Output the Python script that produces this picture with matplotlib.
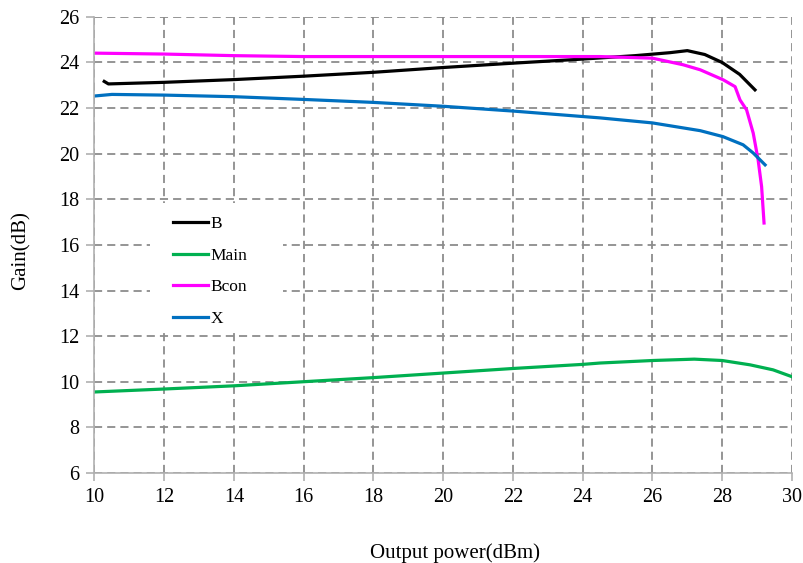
import matplotlib
matplotlib.use("Agg")
import matplotlib.pyplot as plt
from matplotlib.patches import Rectangle

plt.rcParams['font.family'] = ['Liberation Serif', 'DejaVu Serif']

# Gain curves versus output power
b_x = [10.28, 10.4, 12, 14, 16, 18, 20, 22, 24, 25.5, 26.5, 27.0, 27.5, 28.0, 28.5, 28.94]
b_y = [23.17, 23.06, 23.13, 23.25, 23.4, 23.57, 23.78, 23.97, 24.15, 24.3, 24.43, 24.52, 24.35, 24.0, 23.48, 22.8]

main_x = [10, 12, 14, 16, 18, 20, 22, 24, 24.5, 26, 27.2, 28, 28.8, 29.46, 30]
main_y = [9.55, 9.68, 9.82, 10.0, 10.18, 10.38, 10.58, 10.76, 10.82, 10.93, 10.99, 10.93, 10.74, 10.52, 10.22]

bcon_x = [10, 12, 14, 16, 18, 20, 22, 24.5, 26.0, 26.88, 27.37, 28.03, 28.37, 28.51, 28.7, 28.89, 29.03, 29.13, 29.2]
bcon_y = [24.41, 24.37, 24.3, 24.26, 24.26, 24.26, 24.26, 24.26, 24.19, 23.9, 23.68, 23.24, 22.94, 22.36, 21.92, 20.9, 19.73, 18.56, 16.96]

x_x = [10, 10.5, 12, 14, 16, 18, 20, 22, 24.5, 26.0, 27.37, 28.02, 28.6, 28.89, 29.23]
x_y = [22.53, 22.6, 22.57, 22.5, 22.38, 22.25, 22.08, 21.87, 21.57, 21.35, 21.01, 20.75, 20.39, 20.03, 19.51]

x_ticks = list(range(10, 31, 2))
y_ticks = list(range(6, 27, 2))

fig = plt.figure(figsize=(8.04, 5.63), dpi=100)
ax = fig.add_axes([0.1175, 0.160, 0.8675, 0.810])

lw = 2.3
ax.plot(b_x, b_y, color='#000000', lw=lw, label='B', solid_joinstyle='round')
ax.plot(main_x, main_y, color='#00B050', lw=lw, label='Main', solid_joinstyle='round')
ax.plot(bcon_x, bcon_y, color='#FF00FF', lw=lw, label='Bcon', solid_joinstyle='round')
ax.plot(x_x, x_y, color='#0070C0', lw=lw, label='X', solid_joinstyle='round')

ax.set_xlim(10, 30)
ax.set_ylim(6, 26)
ax.set_xticks(x_ticks)
ax.set_yticks(y_ticks)
ax.grid(True, color='#8c8c8c', linestyle=(0, (4.5, 2.8)), linewidth=1.3)
ax.set_axisbelow(True)

for side in ('top', 'right'):
    ax.spines[side].set_visible(False)
for side in ('left', 'bottom'):
    ax.spines[side].set_color('#b0b0b0')
    ax.spines[side].set_linewidth(1.2)

ax.tick_params(axis='both', direction='out', length=6, width=1.2, color='#b0b0b0',
               labelsize=14.5, pad=5)

xl = ax.set_xlabel('Output power(dBm)', fontsize=15)
ax.xaxis.set_label_coords(0.517, -0.175)
xl.set_va('center')
yl = ax.set_ylabel('Gain(dB)', fontsize=15)
ax.yaxis.set_label_coords(-0.106, 0.487)
yl.set_va('center')

# white backing area of the legend block, covering the grid behind it
ax.add_patch(Rectangle((0.0796, 0.3136), 0.1907, 0.2785, transform=ax.transAxes,
                       facecolor='white', edgecolor='none', zorder=1))

leg = ax.legend(loc='upper left', bbox_to_anchor=(0.103, 0.578), fontsize=12.5,
                frameon=False,
                handlelength=2.0, handletextpad=0.15, labelspacing=0.88,
                borderpad=0.4, borderaxespad=0)
for line in leg.get_lines():
    line.set_linewidth(lw)

fig.savefig('out.png', dpi=100)
